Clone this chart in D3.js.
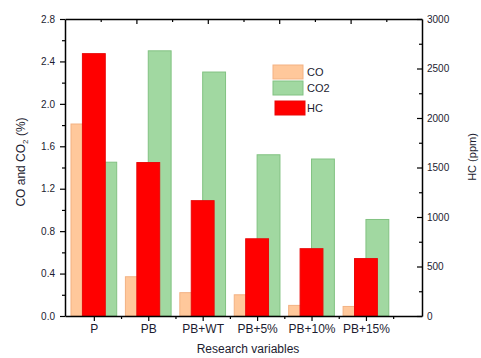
<!DOCTYPE html>
<html>
<head>
<meta charset="utf-8">
<script src="https://cdn.jsdelivr.net/npm/d3@7"></script>
<style>
    body { margin: 0; background: #fff; }
    svg text { font-family: "Liberation Sans", Arial, sans-serif; fill: #1c1c30; }
</style>
</head>
<body>
<div id="chart"></div>
<script>
// Emission data per research variable
const categories = ['P', 'PB', 'PB+WT', 'PB+5%', 'PB+10%', 'PB+15%'];
const coValues = [1.81, 0.37, 0.22, 0.20, 0.10, 0.09];     // %
const co2Values = [1.45, 2.50, 2.30, 1.52, 1.48, 0.91];    // %
const hcValues = [2650, 1550, 1165, 780, 680, 580];        // ppm
const leftTicks = [0, 0.4, 0.8, 1.2, 1.6, 2.0, 2.4, 2.8];
const rightTicks = [0, 500, 1000, 1500, 2000, 2500, 3000];

const COLORS = {
    co: '#ffc89b', coStroke: '#f3b283',
    co2: '#a1d8a1', co2Stroke: '#82c282',
    hc: '#ff0000', hcStroke: '#e80808'
};

const width = 481, height = 358;
const margin = { top: 19, right: 59, bottom: 42, left: 65 };
const w = width - margin.left - margin.right;
const h = height - margin.top - margin.bottom;

const svg = d3.select('#chart').append('svg')
    .attr('width', width).attr('height', height);

const g = svg.append('g')
    .attr('transform', `translate(${margin.left},${margin.top})`);

// categories sit at 1..6 on a linear axis, like the original plot
const xScale = d3.scaleLinear().domain([0.47, 7.03]).range([0, w]);
const yLeft = d3.scaleLinear().domain([0, 2.8]).range([h, 0]);
const yRight = d3.scaleLinear().domain([0, 3000]).range([h, 0]);
const barW = 0.42;

const rows = categories.map((c, i) => ({
    cat: c, pos: i + 1, co: coValues[i], co2: co2Values[i], hc: hcValues[i]
}));

// CO bars (left of tick)
g.selectAll('.co-bar')
    .data(rows)
    .join('rect')
    .attr('x', d => xScale(d.pos - barW))
    .attr('y', d => yLeft(d.co))
    .attr('width', d => xScale(d.pos) - xScale(d.pos - barW))
    .attr('height', d => h - yLeft(d.co))
    .attr('fill', COLORS.co)
    .attr('stroke', COLORS.coStroke);

// CO2 bars (right of tick)
g.selectAll('.co2-bar')
    .data(rows)
    .join('rect')
    .attr('x', d => xScale(d.pos))
    .attr('y', d => yLeft(d.co2))
    .attr('width', d => xScale(d.pos + barW) - xScale(d.pos))
    .attr('height', d => h - yLeft(d.co2))
    .attr('fill', COLORS.co2)
    .attr('stroke', COLORS.co2Stroke);

// HC bars (centred, right axis)
g.selectAll('.hc-bar')
    .data(rows)
    .join('rect')
    .attr('x', d => xScale(d.pos - barW / 2))
    .attr('y', d => yRight(d.hc))
    .attr('width', d => xScale(d.pos + barW / 2) - xScale(d.pos - barW / 2))
    .attr('height', d => h - yRight(d.hc))
    .attr('fill', COLORS.hc)
    .attr('stroke', COLORS.hcStroke);

// Axes
const styleAxis = (sel, fontSize = '10px') => {
    sel.select('.domain').attr('stroke', '#000').attr('stroke-width', 1.5);
    sel.selectAll('.tick line').attr('stroke', '#000').attr('stroke-width', 1.2);
    sel.selectAll('text').style('font-size', fontSize);
};

const minor = ticks => ticks.slice(0, -1).map((t, i) => (t + ticks[i + 1]) / 2);

// bottom
g.append('g')
    .attr('transform', `translate(0,${h})`)
    .call(d3.axisBottom(xScale).tickValues(rows.map(r => r.pos))
        .tickFormat((d, i) => categories[i]).tickSize(5).tickSizeOuter(0).tickPadding(3.5))
    .call(styleAxis, '12px');
g.append('g')
    .attr('transform', `translate(0,${h})`)
    .call(d3.axisBottom(xScale).tickValues(rows.map(r => r.pos + 0.5)).tickFormat('').tickSize(3).tickSizeOuter(0))
    .call(styleAxis).select('.domain').remove();

// top (unlabelled, inward ticks)
const xTop = d3.scaleLinear().domain([0, 5]).range([0, w]);
g.append('g')
    .call(d3.axisTop(xTop).tickValues([1, 2, 3, 4]).tickFormat('').tickSize(-5).tickSizeOuter(0))
    .call(styleAxis);
g.append('g')
    .call(d3.axisTop(xTop).tickValues([0.5, 1.5, 2.5, 3.5, 4.5]).tickFormat('').tickSize(-3).tickSizeOuter(0))
    .call(styleAxis).select('.domain').remove();

// left
g.append('g')
    .call(d3.axisLeft(yLeft).tickValues(leftTicks).tickFormat(d3.format('.1f'))
        .tickSize(5).tickSizeOuter(0).tickPadding(5))
    .call(styleAxis);
g.append('g')
    .call(d3.axisLeft(yLeft).tickValues(minor(leftTicks)).tickFormat('').tickSize(3).tickSizeOuter(0))
    .call(styleAxis).select('.domain').remove();

// right (inward ticks)
g.append('g')
    .attr('transform', `translate(${w},0)`)
    .call(d3.axisRight(yRight).tickValues(rightTicks).tickFormat(d3.format('d'))
        .tickSize(-5).tickSizeOuter(0).tickPadding(5))
    .call(styleAxis);
g.append('g')
    .attr('transform', `translate(${w},0)`)
    .call(d3.axisRight(yRight).tickValues(minor(rightTicks)).tickFormat('').tickSize(-3).tickSizeOuter(0))
    .call(styleAxis).select('.domain').remove();

// Axis titles
const leftTitle = svg.append('text')
    .attr('transform', 'translate(25,162) rotate(-90)')
    .attr('text-anchor', 'middle')
    .style('font-size', '12px');
leftTitle.append('tspan').text('CO and CO');
leftTitle.append('tspan').text('2').attr('dy', 3).style('font-size', '8px');
leftTitle.append('tspan').text(' (%)').attr('dy', -3);

svg.append('text')
    .attr('transform', 'translate(476,157) rotate(-90)')
    .attr('text-anchor', 'middle')
    .style('font-size', '11px')
    .text('HC (ppm)');

svg.append('text')
    .attr('x', 248).attr('y', 353)
    .attr('text-anchor', 'middle')
    .style('font-size', '12px')
    .text('Research variables');

// Legend
const legendItems = [
    { label: 'CO', color: COLORS.co, stroke: COLORS.coStroke, x: 273, y: 65 },
    { label: 'CO2', color: COLORS.co2, stroke: COLORS.co2Stroke, x: 273, y: 81 },
    { label: 'HC', color: COLORS.hc, stroke: COLORS.hcStroke, x: 275, y: 101 }
];
const legend = svg.append('g');
legendItems.forEach(it => {
    legend.append('rect')
        .attr('x', it.x).attr('y', it.y)
        .attr('width', 30).attr('height', 14)
        .attr('fill', it.color).attr('stroke', it.stroke);
    legend.append('text')
        .attr('x', 307).attr('y', it.y + 11)
        .style('font-size', '11px')
        .text(it.label);
});
</script>
</body>
</html>
